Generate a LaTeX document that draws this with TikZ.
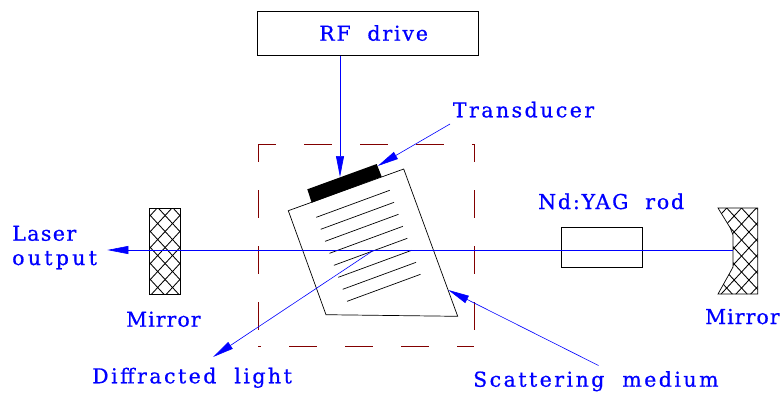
\documentclass[tikz,border=0pt]{standalone}
\usepackage{fontspec}
\usetikzlibrary{arrows.meta}
\definecolor{lblue}{RGB}{0,0,255}
\definecolor{dred}{RGB}{130,0,0}
\newfontfamily\lblfont[WordSpace=2,FakeBold=0.7]{DejaVu Serif}
\newcommand{\lsp}[1]{\addfontfeature{LetterSpace=#1}}
\tikzset{
 lbl/.style={text=lblue,font=\lblfont\fontsize{20.5}{24}\selectfont,inner sep=0pt,anchor=base west},
 beam/.style={draw=lblue,line width=0.6pt},
 arr/.style={beam,-{Triangle[length=21pt,width=8pt,fill=lblue]}},
 obj/.style={draw=black,line width=0.7pt},
 hatchln/.style={draw=black,line width=0.85pt},
 dashbox/.style={dred,line width=0.8pt}
}
\begin{document}
\begin{tikzpicture}[x=1pt,y=-1pt]
\useasboundingbox (0,0) rectangle (783,392);
% RF
\draw[obj] (257,11.5) rectangle (478,55.5);
\node[lbl] (rft) at (319,40.7) {\lsp{9}RF drive};
% dashed box
\draw[dashbox,dash pattern=on 28pt off 28pt,dash phase=10pt] (258,144) -- (474,144);
\draw[dashbox,dash pattern=on 28pt off 28pt,dash phase=10pt] (258,144) -- (258,346);
\draw[dashbox,dash pattern=on 28pt off 28pt,dash phase=10pt] (474,144) -- (474,346);
\draw[dashbox,dash pattern=on 28pt off 28pt,dash phase=25pt] (258,346) -- (474,346);
% medium
\coordinate (mA) at (288.3,210.7);
\coordinate (mB) at (403.7,169);
\coordinate (mC) at (457.7,316.3);
\coordinate (mD) at (326,314.7);
\draw[obj,fill=white] (mA)--(mB)--(mC)--(mD)--cycle;
\fill[black] (307.3,189.3)--(376.7,164)--(381.7,176.7)--(311.7,202.7)--cycle;
\foreach \i in {0,...,7}{
 \draw[obj] ({316.3+\i*4.4},{217.3+\i*12}) -- ({389.7+\i*4.4},{190.3+\i*12});
}
% rod
\draw[obj] (561,227.7) rectangle (642.7,267.7);
% mirrors
\begin{scope}
\clip (149,208.3) rectangle (180,294.3);
\foreach \k in {-4,...,8}{
 \draw[hatchln] (149,{198.1+\k*16}) -- (180,{198.1+\k*16+33.5});
 \draw[hatchln] (149,{216.9+\k*16}) -- (180,{216.9+\k*16-33.5});
}
\end{scope}
\draw[obj] (149,208.3) rectangle (180,294.3);
\begin{scope}
\clip (718,208) -- (757.7,208) -- (757.7,294) -- (718,294) -- (730.3,272) -- (733,267) -- (733,235) -- (730.3,228) -- cycle;
\foreach \k in {-4,...,8}{
 \draw[hatchln] (718,{198.6+\k*16}) -- (758,{198.6+\k*16+43.2});
 \draw[hatchln] (718,{217.4+\k*16}) -- (758,{217.4+\k*16-43.2});
}
\end{scope}
\draw[obj] (718,208) -- (757.7,208) -- (757.7,294) -- (718,294) -- (730.3,272) -- (733,267) -- (733,235) -- (730.3,228) -- cycle;
% beams
\coordinate (mr) at (733,250);
\coordinate (lo) at (107.3,250);
\draw[arr] (mr) -- (lo);
\coordinate (s1) at (340,55.5);
\coordinate (e1) at (340,177);
\draw[arr] (s1) -- (e1);
\coordinate (s2) at (450,124);
\coordinate (e2) at (377.7,166);
\draw[arr] (s2) -- (e2);
\coordinate (s3) at (598.5,365.5);
\coordinate (e3) at (448.3,290);
\draw[arr] (s3) -- (e3);
\coordinate (s4) at (373,250.7);
\coordinate (e4) at (213,357);
\draw[arr] (s4) -- (e4);
% labels
\node[lbl] at (452.7,117.3) {\lsp{12}Transducer};
\node[lbl] at (538,209) {\lsp{9}Nd:YAG rod};
\node[lbl] at (12,240.7) {\lsp{7}Laser};
\node[lbl] at (12,265) {\lsp{16}output};
\node[lbl] at (126,326.7) {\lsp{5}Mirror};
\node[lbl] at (705,324) {\lsp{5}Mirror};
\node[lbl] at (92,383.3) {\lsp{12}Diffracted light};
\node[lbl] at (473,386.7) {\lsp{12}Scattering medium};
\end{tikzpicture}
\end{document}
